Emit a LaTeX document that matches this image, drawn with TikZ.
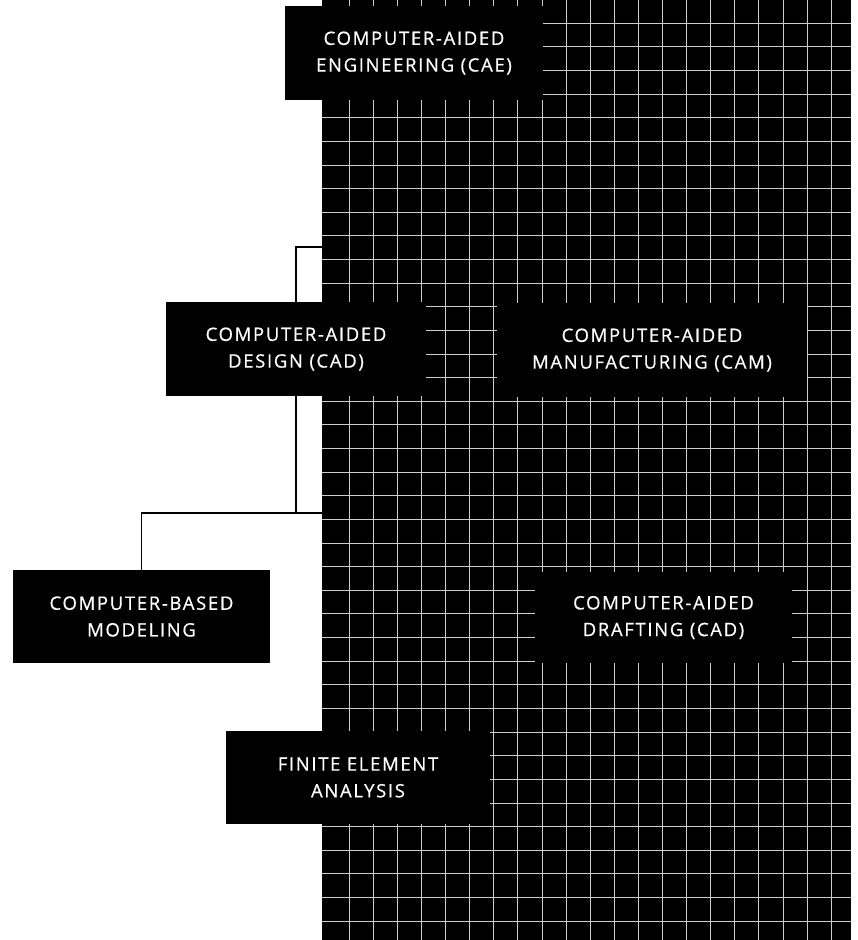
\documentclass[tikz,border=0pt]{standalone}
\usepackage{fontspec}
\newfontfamily\boxfont[LetterSpace=9,FakeBold=0.6]{Open Sans}
\begin{document}
\begin{tikzpicture}[x=1pt,y=-1pt,
  gridline/.style={draw=white!80!black, line width=0.55pt},
  box/.style={fill=black, text=white, inner sep=0pt, align=center,
    font={\boxfont\fontsize{18.5}{26.7}\selectfont}},
  conn/.style={draw=black, line width=1.6pt}]
\useasboundingbox (0,0) rectangle (858,940);
% grid field
\fill[black] (322,0) rectangle (851,940);
\begin{scope}
  \clip (322,0) rectangle (851,940);
  \foreach \k in {0,...,20} \draw[gridline] ({349+24.1*\k},0) -- ({349+24.1*\k},940);
  \foreach \k in {0,...,38} \draw[gridline] (322,{23+23.63*\k}) -- (851,{23+23.63*\k});
\end{scope}
% boxes
\node[box, minimum width=258pt, minimum height=94pt] (cae) at (414,53) {COMPUTER-AIDED\\ENGINEERING (CAE)};
\node[box, minimum width=260pt, minimum height=94pt] (cad) at (296,349) {COMPUTER-AIDED\\DESIGN (CAD)};
\node[box, minimum width=310pt, minimum height=94pt] (cam) at (652,350) {COMPUTER-AIDED\\MANUFACTURING (CAM)};
\node[box, minimum width=257pt, minimum height=93pt] (cbm) at (141.5,616.5) {COMPUTER-BASED\\MODELING};
\node[box, minimum width=257pt, minimum height=91pt] (cadd) at (663.5,617.5) {COMPUTER-AIDED\\DRAFTING (CAD)};
\node[box, minimum width=264pt, minimum height=93pt] (fea) at (358,777.5) {FINITE ELEMENT\\ANALYSIS};
% connectors (only the parts on the white ground are visible)
\coordinate (e1) at (323,247);
\coordinate (j2) at (296,513);
\coordinate (e2) at (323,513);
\draw[conn] (e1) -| (cad.north);
\draw[conn] (cad.south) -- (j2);
\draw[conn] (cbm.north) |- (e2);
\end{tikzpicture}
\end{document}
